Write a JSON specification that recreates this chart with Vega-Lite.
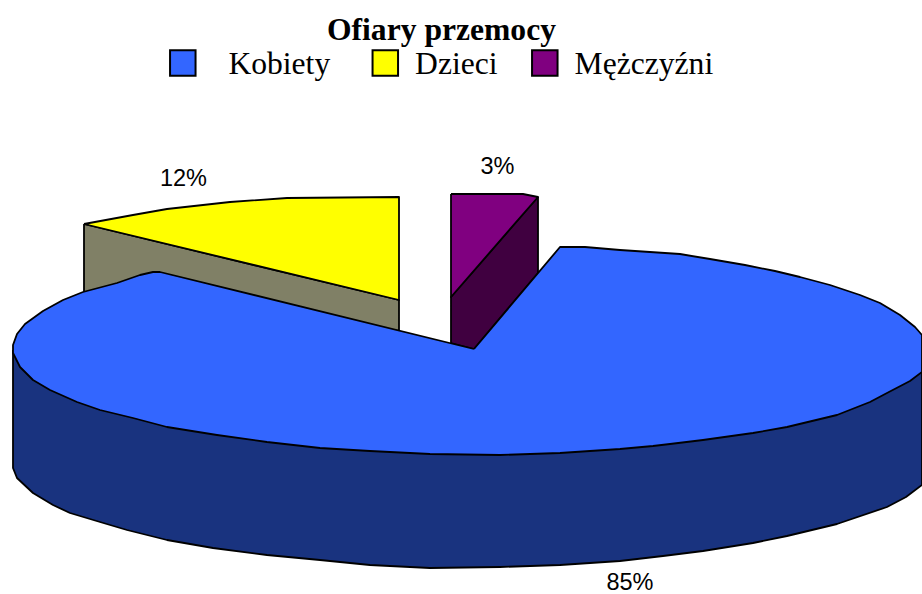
{"$schema":"https://vega.github.io/schema/vega-lite/v6.json","width":922,"height":594,"autosize":"none","padding":0,"background":"white","view":{"stroke":null},
"title":{"text":"Ofiary przemocy","font":"Liberation Serif","fontSize":31.6,"fontWeight":"bold","color":"black","anchor":"start","frame":"group","dx":327,"offset":-72,"baseline":"alphabetic"},
"config":{"view":{"stroke":null}},
"datasets":{"labels":[{"label":"12%","x":183.5,"y":179},{"label":"3%","x":497.5,"y":167},{"label":"85%","x":630,"y":583}],
"back":[
{"category":"Dzieci","part":"side","order":0,"x":84,"y":224},{"category":"Dzieci","part":"side","order":1,"x":399,"y":300},{"category":"Dzieci","part":"side","order":2,"x":399,"y":331},{"category":"Dzieci","part":"side","order":3,"x":84,"y":297},{"category":"Dzieci","part":"side","order":4,"x":84,"y":224},
{"category":"Mężczyźni","part":"side","order":0,"x":538,"y":197},{"category":"Mężczyźni","part":"side","order":1,"x":538,"y":273},{"category":"Mężczyźni","part":"side","order":2,"x":474,"y":349},{"category":"Mężczyźni","part":"side","order":3,"x":451,"y":343},{"category":"Mężczyźni","part":"side","order":4,"x":451,"y":297},{"category":"Mężczyźni","part":"side","order":5,"x":538,"y":197},
{"category":"Dzieci","part":"top","order":0,"x":84,"y":224},{"category":"Dzieci","part":"top","order":1,"x":133,"y":215},{"category":"Dzieci","part":"top","order":2,"x":167,"y":209},{"category":"Dzieci","part":"top","order":3,"x":230,"y":202},{"category":"Dzieci","part":"top","order":4,"x":287,"y":198},{"category":"Dzieci","part":"top","order":5,"x":399,"y":197},{"category":"Dzieci","part":"top","order":6,"x":399,"y":300},{"category":"Dzieci","part":"top","order":7,"x":84,"y":224},
{"category":"Mężczyźni","part":"top","order":0,"x":451,"y":194},{"category":"Mężczyźni","part":"top","order":1,"x":523,"y":194},{"category":"Mężczyźni","part":"top","order":2,"x":538,"y":197},{"category":"Mężczyźni","part":"top","order":3,"x":451,"y":297},{"category":"Mężczyźni","part":"top","order":4,"x":451,"y":194}],
"blueSide":[
{"order":0,"x":13,"y":350},{"order":1,"x":13,"y":468},{"order":2,"x":17,"y":478},{"order":3,"x":33,"y":493},{"order":4,"x":53,"y":505},{"order":5,"x":70,"y":513},{"order":6,"x":100,"y":522},{"order":7,"x":127,"y":530},{"order":8,"x":167,"y":540},{"order":9,"x":213,"y":548},{"order":10,"x":267,"y":555},{"order":11,"x":320,"y":560},{"order":12,"x":370,"y":565},{"order":13,"x":430,"y":568},{"order":14,"x":500,"y":567},{"order":15,"x":560,"y":565},{"order":16,"x":620,"y":561},{"order":17,"x":663,"y":556},{"order":18,"x":703,"y":551},{"order":19,"x":753,"y":543},{"order":20,"x":787,"y":536},{"order":21,"x":837,"y":524},{"order":22,"x":887,"y":507},{"order":23,"x":906,"y":497},{"order":24,"x":922,"y":485},{"order":25,"x":922,"y":372},{"order":26,"x":13,"y":350}],
"blueTop":[
{"category":"Kobiety","order":0,"x":474,"y":349},{"category":"Kobiety","order":1,"x":560,"y":247},{"category":"Kobiety","order":2,"x":585,"y":247},{"category":"Kobiety","order":3,"x":620,"y":250},{"category":"Kobiety","order":4,"x":650,"y":252},{"category":"Kobiety","order":5,"x":680,"y":254},{"category":"Kobiety","order":6,"x":710,"y":259},{"category":"Kobiety","order":7,"x":745,"y":265},{"category":"Kobiety","order":8,"x":775,"y":271},{"category":"Kobiety","order":9,"x":800,"y":277},{"category":"Kobiety","order":10,"x":830,"y":285},{"category":"Kobiety","order":11,"x":860,"y":295},{"category":"Kobiety","order":12,"x":880,"y":303},{"category":"Kobiety","order":13,"x":900,"y":315},{"category":"Kobiety","order":14,"x":915,"y":327},{"category":"Kobiety","order":15,"x":922,"y":335},{"category":"Kobiety","order":16,"x":922,"y":372},{"category":"Kobiety","order":17,"x":910,"y":381},{"category":"Kobiety","order":18,"x":887,"y":393},{"category":"Kobiety","order":19,"x":870,"y":402},{"category":"Kobiety","order":20,"x":837,"y":415},{"category":"Kobiety","order":21,"x":787,"y":427},{"category":"Kobiety","order":22,"x":753,"y":433},{"category":"Kobiety","order":23,"x":703,"y":440},{"category":"Kobiety","order":24,"x":670,"y":444},{"category":"Kobiety","order":25,"x":653,"y":446},{"category":"Kobiety","order":26,"x":620,"y":449},{"category":"Kobiety","order":27,"x":560,"y":453},{"category":"Kobiety","order":28,"x":500,"y":455},{"category":"Kobiety","order":29,"x":430,"y":454},{"category":"Kobiety","order":30,"x":370,"y":451},{"category":"Kobiety","order":31,"x":320,"y":448},{"category":"Kobiety","order":32,"x":267,"y":442},{"category":"Kobiety","order":33,"x":217,"y":435},{"category":"Kobiety","order":34,"x":167,"y":427},{"category":"Kobiety","order":35,"x":133,"y":418},{"category":"Kobiety","order":36,"x":100,"y":410},{"category":"Kobiety","order":37,"x":77,"y":402},{"category":"Kobiety","order":38,"x":50,"y":390},{"category":"Kobiety","order":39,"x":33,"y":380},{"category":"Kobiety","order":40,"x":20,"y":367},{"category":"Kobiety","order":41,"x":13,"y":353},{"category":"Kobiety","order":42,"x":13,"y":345},{"category":"Kobiety","order":43,"x":17,"y":334},{"category":"Kobiety","order":44,"x":25,"y":324},{"category":"Kobiety","order":45,"x":43,"y":311},{"category":"Kobiety","order":46,"x":63,"y":300},{"category":"Kobiety","order":47,"x":83,"y":292},{"category":"Kobiety","order":48,"x":117,"y":283},{"category":"Kobiety","order":49,"x":140,"y":275},{"category":"Kobiety","order":50,"x":153,"y":272},{"category":"Kobiety","order":51,"x":160,"y":272},{"category":"Kobiety","order":52,"x":474,"y":349}]},
"data":{"name":"back"},
"encoding":{"x":{"field":"x","type":"quantitative","scale":{"domain":[0,922]},"axis":null},"y":{"field":"y","type":"quantitative","scale":{"domain":[594,0]},"axis":null}},
"layer":[
{"transform":[{"filter":"datum.part==='side' && datum.category==='Dzieci'"}],"mark":{"type":"line","stroke":"black","strokeWidth":1.8,"fill":"#808066","strokeJoin":"round"},"encoding":{"order":{"field":"order","type":"quantitative"}}},
{"transform":[{"filter":"datum.part==='side' && datum.category==='Mężczyźni'"}],"mark":{"type":"line","stroke":"black","strokeWidth":1.8,"fill":"#400040","strokeJoin":"round"},"encoding":{"order":{"field":"order","type":"quantitative"}}},
{"transform":[{"filter":"datum.part==='top'"}],"mark":{"type":"line","stroke":"black","strokeWidth":1.8,"strokeJoin":"round"},"encoding":{"detail":{"field":"category"},"order":{"field":"order","type":"quantitative"},"fill":{"field":"category","type":"nominal","scale":{"domain":["Kobiety","Dzieci","Mężczyźni"],"range":["#3366FF","#FFFF00","#800080"]},"legend":{"title":null,"orient":"none","legendX":167,"legendY":47,"direction":"horizontal","columns":3,"symbolType":"square","symbolSize":650,"symbolStrokeColor":"black","symbolStrokeWidth":2,"labelFont":"Liberation Serif","labelFontSize":31.6,"labelColor":"black","labelOffset":14,"columnPadding":29.5,"labelLimit":300,"labelExpr":"datum.label==='Kobiety'?'\u200b\u2002Kobiety\u2005\u200b':datum.label","encode":{"labels":{"update":{"dy":{"value":2}}}}}}}},
{"data":{"name":"blueSide"},"mark":{"type":"line","stroke":"black","strokeWidth":1.8,"fill":"#19337F","strokeJoin":"round"},"encoding":{"order":{"field":"order","type":"quantitative"}}},
{"data":{"name":"blueTop"},"mark":{"type":"line","stroke":"black","strokeWidth":1.8,"strokeJoin":"round"},"encoding":{"order":{"field":"order","type":"quantitative"},"fill":{"field":"category","type":"nominal"}}},
{"data":{"name":"labels"},"mark":{"type":"text","font":"Liberation Sans","fontSize":23.5,"color":"black","align":"center","baseline":"middle"},"encoding":{"text":{"field":"label"}}}
]}
